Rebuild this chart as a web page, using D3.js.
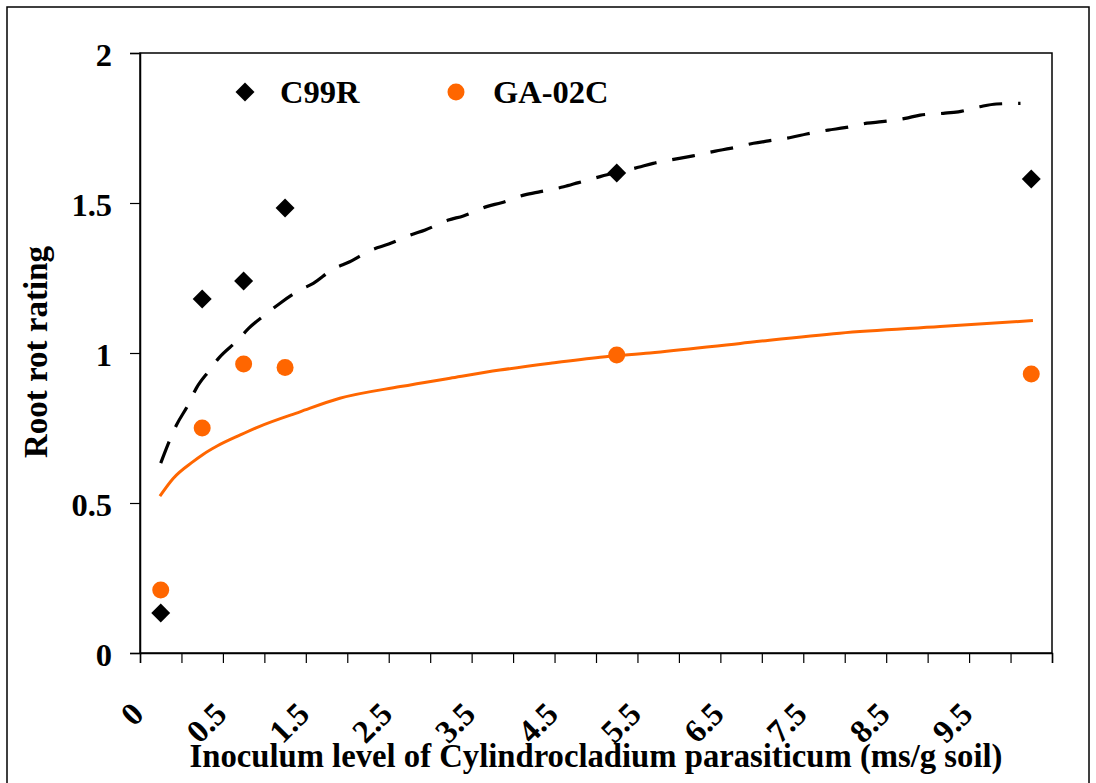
<!DOCTYPE html>
<html>
<head>
<meta charset="utf-8">
<script src="https://cdn.jsdelivr.net/npm/d3@7/dist/d3.min.js"></script>
<style>
  html, body { margin: 0; padding: 0; background: #fff; }
  svg text { font-family: "Liberation Serif", "Times New Roman", serif; font-weight: bold; fill: #000; }
</style>
</head>
<body>
<svg id="chart" width="1096" height="783"></svg>
<script>
// ---- data (x in axis units, as placed on the chart) ----
const xValues = [0.25, 0.75, 1.25, 1.75, 5.75, 10.75];
const c99r    = [0.133, 1.18, 1.24, 1.483, 1.60, 1.58];
const ga02c   = [0.21, 0.75, 0.963, 0.952, 0.993, 0.93];

const c99rFitX = [0.25,0.44,0.58,0.68,0.84,0.95,1.18,1.31,1.53,1.69,1.93,2.09,2.33,2.53,2.79,3.00,3.26,3.44,3.72,3.90,4.18,4.36,4.64,4.83,5.11,5.29,5.55,6.01,6.19,6.47,6.67,6.94,7.12,7.40,7.58,7.86,8.04,8.30,8.50,8.77,8.95,9.23,9.41,9.69,9.87,10.13,10.33,10.62];
const c99rFitY = [0.633,0.76,0.827,0.883,0.943,0.983,1.043,1.082,1.132,1.166,1.21,1.232,1.28,1.304,1.343,1.363,1.393,1.41,1.443,1.457,1.488,1.501,1.527,1.538,1.554,1.568,1.588,1.619,1.632,1.647,1.657,1.673,1.682,1.699,1.707,1.719,1.73,1.743,1.751,1.766,1.771,1.782,1.793,1.799,1.804,1.821,1.83,1.832];

const ga02cFitX = [0.24,0.40,0.64,0.76,0.93,1.21,1.43,1.93,2.41,3.14,3.74,4.34,4.95,5.55,6.15,7.24,8.44,9.65,10.77];
const ga02cFitY = [0.523,0.582,0.638,0.662,0.69,0.727,0.754,0.804,0.849,0.888,0.916,0.943,0.966,0.986,1.0,1.032,1.066,1.088,1.108];

const xTickValues = [0,1,2,3,4,5,6,7,8,9,10];
const xTickLabels = ["0","0.5","1.5","2.5","3.5","4.5","5.5","6.5","7.5","8.5","9.5"];
const yTickValues = [0, 0.5, 1, 1.5, 2];
const yTickLabels = ["0","0.5","1","1.5","2"];
const seriesNames = ["C99R", "GA-02C"];
const seriesColors = ["#000000", "#FF6600"];

// ---- layout ----
const svg = d3.select("#chart");
const L = 140, R = 1052, T = 53, B = 653;
const x = d3.scaleLinear().domain([0, 11]).range([L, R]);
const y = d3.scaleLinear().domain([0, 2]).range([B, T]);

// outer border
svg.append("rect").attr("x", 7).attr("y", 7).attr("width", 1082).attr("height", 800)
  .attr("fill", "none").attr("stroke", "#000").attr("stroke-width", 1.5);

// plot border
svg.append("rect").attr("x", L).attr("y", T).attr("width", R - L).attr("height", B - T)
  .attr("fill", "none").attr("stroke", "#000").attr("stroke-width", 1.5);

// y axis
const yAxis = d3.axisLeft(y).tickValues(yTickValues).tickSize(10).tickPadding(0)
  .tickFormat((d, i) => yTickLabels[i]);
const gy = svg.append("g").attr("transform", `translate(${L},0)`).call(yAxis);
gy.select(".domain").attr("stroke-width", 1.5);
gy.selectAll(".tick line").attr("stroke-width", 1.2);
gy.selectAll(".tick text").attr("x", -28).attr("dy", null).attr("y", 12.5)
  .style("font-size", "32.5px").style("font-family", "Liberation Serif").style("font-weight", "bold");

// x axis minor ticks (every half unit)
const halfTicks = d3.range(0, 11.001, 0.5);
const xAxisMinor = d3.axisBottom(x).tickValues(halfTicks).tickSize(10).tickFormat("");
const gx = svg.append("g").attr("transform", `translate(0,${B})`).call(xAxisMinor);
gx.select(".domain").attr("stroke-width", 1.5);
gx.selectAll(".tick line").attr("stroke-width", 1.2);

// x tick labels
const xAxisLab = d3.axisBottom(x).tickValues(xTickValues).tickSize(0)
  .tickFormat((d, i) => xTickLabels[i]);
const gxl = svg.append("g").attr("transform", `translate(0,${B})`).call(xAxisLab);
gxl.select(".domain").remove();
gxl.selectAll(".tick text")
  .attr("y", null).attr("dy", null)
  .attr("text-anchor", "end")
  .attr("transform", "translate(5,63) rotate(-45)")
  .style("font-size", "32.5px").style("font-family", "Liberation Serif").style("font-weight", "bold");

// axis titles
svg.append("text").attr("x", (L + R) / 2).attr("y", 767).attr("text-anchor", "middle")
  .style("font-size", "32.7px").text("Inoculum level of Cylindrocladium parasiticum (ms/g soil)");
svg.append("text").attr("transform", `translate(47,352) rotate(-90)`).attr("text-anchor", "middle")
  .style("font-size", "33px").text("Root rot rating");

// fitted curves
const line = d3.line().x(d => x(d[0])).y(d => y(d[1])).curve(d3.curveMonotoneX);
svg.append("path").datum(ga02cFitX.map((v, i) => [v, ga02cFitY[i]]))
  .attr("d", line).attr("fill", "none").attr("stroke", seriesColors[1]).attr("stroke-width", 3);
svg.append("path").datum(c99rFitX.map((v, i) => [v, c99rFitY[i]]))
  .attr("d", line).attr("fill", "none").attr("stroke", seriesColors[0]).attr("stroke-width", 3.2)
  .attr("stroke-dasharray", "23,16");

// points
const diamond = d3.symbol().type(d3.symbolSquare).size(180);
svg.append("g").selectAll("path").data(xValues.map((v, i) => [v, c99r[i]])).join("path")
  .attr("d", diamond)
  .attr("transform", d => `translate(${x(d[0])},${y(d[1])}) rotate(45)`)
  .attr("fill", seriesColors[0]);
svg.append("g").selectAll("circle").data(xValues.map((v, i) => [v, ga02c[i]])).join("circle")
  .attr("cx", d => x(d[0])).attr("cy", d => y(d[1])).attr("r", 8.5)
  .attr("fill", seriesColors[1]);

// legend
const leg = svg.append("g");
leg.append("path").attr("d", diamond).attr("transform", "translate(245,92) rotate(45)").attr("fill", seriesColors[0]);
leg.append("text").attr("x", 280).attr("y", 103).style("font-size", "32.5px").text(seriesNames[0]);
leg.append("circle").attr("cx", 456).attr("cy", 92).attr("r", 8.5).attr("fill", seriesColors[1]);
leg.append("text").attr("x", 493).attr("y", 103).style("font-size", "32.5px").text(seriesNames[1]);
</script>
</body>
</html>
